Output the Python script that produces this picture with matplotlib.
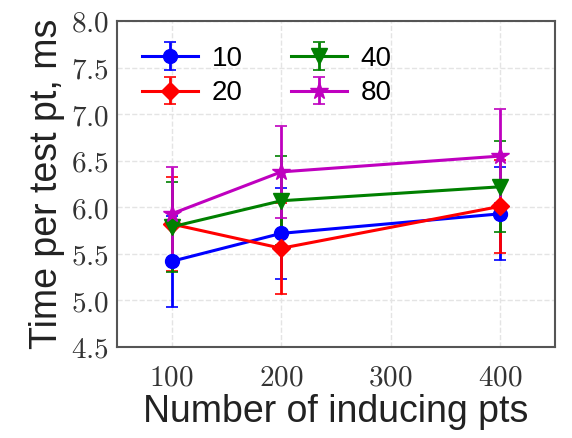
import matplotlib
matplotlib.use("Agg")
import matplotlib.pyplot as plt
from matplotlib.ticker import FuncFormatter

# inducing point counts on the x axis
n_inducing = [100, 200, 400]

# mean time per test point (ms) and its spread, one list per minibatch size
time_10 = [5.42, 5.72, 5.93]
err_10 = [0.49, 0.49, 0.50]
time_20 = [5.82, 5.56, 6.01]
err_20 = [0.50, 0.49, 0.50]
time_40 = [5.79, 6.07, 6.22]
err_40 = [0.48, 0.48, 0.49]
time_80 = [5.93, 6.38, 6.55]
err_80 = [0.50, 0.49, 0.50]

series_labels = ["10", "20", "40", "80"]

plt.rcParams["mathtext.fontset"] = "cm"
plt.rcParams["font.family"] = ["Liberation Sans", "DejaVu Sans"]

fig = plt.figure(figsize=(5.72, 4.38), dpi=100)
ax = fig.add_axes([117 / 572, 1 - 347 / 438, (555 - 117) / 572, (347 - 21) / 438])

style = dict(linewidth=2.2, capsize=4, elinewidth=2, capthick=1.2)
ax.errorbar(n_inducing, time_10, yerr=err_10, color="blue", marker="o", markersize=10,
            label=series_labels[0], **style)
ax.errorbar(n_inducing, time_20, yerr=err_20, color="red", marker="D", markersize=9,
            label=series_labels[1], **style)
ax.errorbar(n_inducing, time_40, yerr=err_40, color="green", marker="v", markersize=12,
            label=series_labels[2], **style)
ax.errorbar(n_inducing, time_80, yerr=err_80, color="m", marker="*", markersize=13,
            label=series_labels[3], **style)

ax.set_xlim(50, 450)
ax.set_ylim(4.5, 8.0)
ax.set_xticks([100, 200, 300, 400])
ax.set_yticks([4.5, 5.0, 5.5, 6.0, 6.5, 7.0, 7.5, 8.0])
ax.xaxis.set_major_formatter(FuncFormatter(lambda v, p: f"${v:.0f}$"))
ax.yaxis.set_major_formatter(FuncFormatter(lambda v, p: f"${v:.1f}$"))
ax.tick_params(axis="both", length=0, labelsize=21, labelcolor="#333333")
ax.tick_params(axis="x", pad=12)
ax.tick_params(axis="y", pad=6)

ax.grid(True, color="#e4e4e4", linestyle="--", linewidth=1)
for side in ax.spines.values():
    side.set_color("#555555")
    side.set_linewidth(1.5)

ax.set_xlabel("Number of inducing pts", fontsize=27, color="#222222", labelpad=2)
ax.set_ylabel("Time per test pt, ms", fontsize=27, color="#222222", labelpad=4)

ax.legend(loc="upper left", ncol=2, frameon=False, fontsize=20, handlelength=2.0,
          columnspacing=1.75, borderaxespad=0.5, handletextpad=0.5, labelspacing=0.3)

fig.savefig("out.png", dpi=100)
